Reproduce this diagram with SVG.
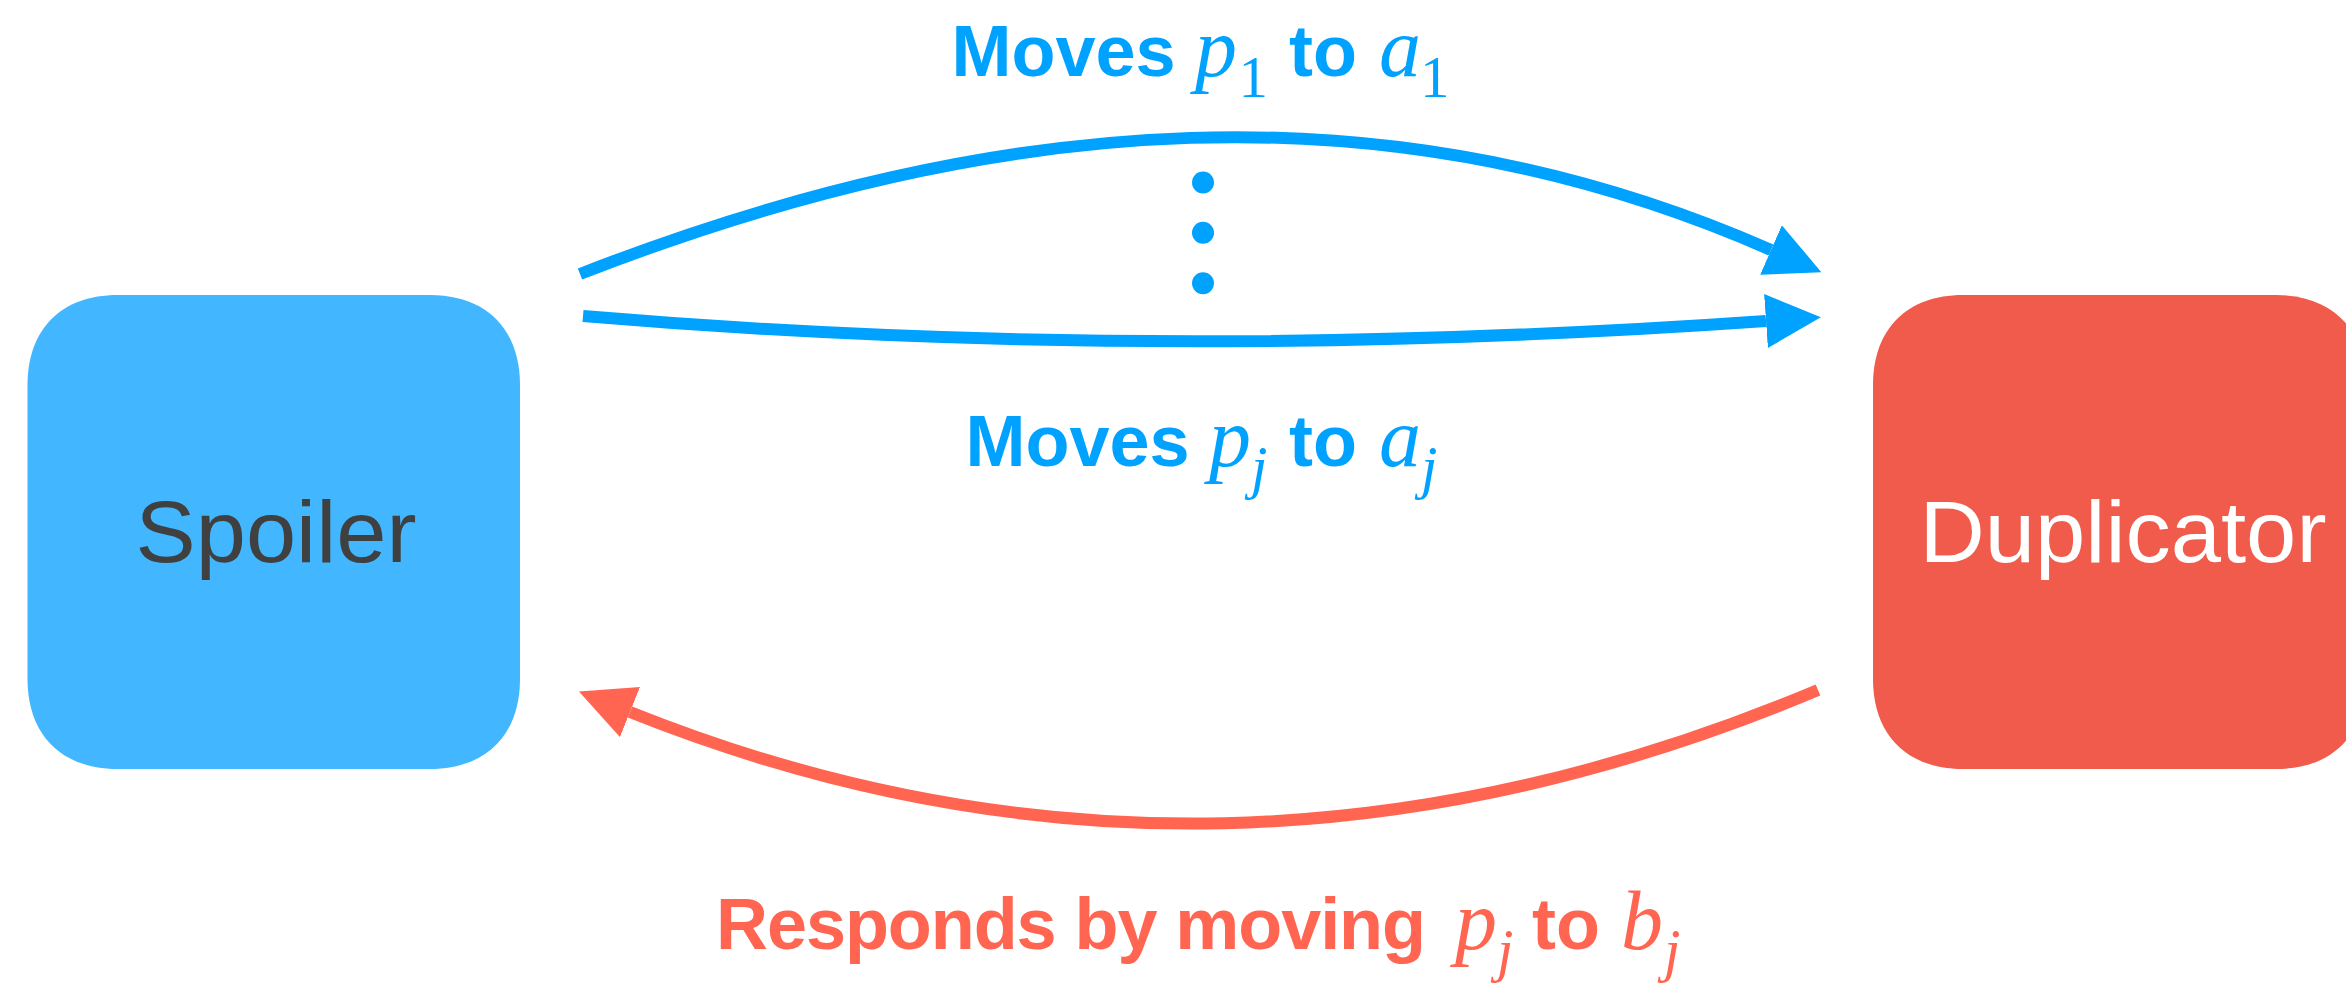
<svg xmlns="http://www.w3.org/2000/svg" width="2346" height="983" viewBox="0 0 2346 983">
  <style>
    .bold { font-family: "Liberation Sans", Arial, Helvetica, sans-serif; font-weight: bold; font-size: 72px; }
    .math { font-family: "Liberation Serif", "Times New Roman", serif; font-style: italic; font-size: 84px; }
    .sub { font-family: "Liberation Serif", "Times New Roman", serif; font-size: 59px; }
    .subi { font-family: "Liberation Serif", "Times New Roman", serif; font-style: italic; font-size: 59px; }
    .blue { fill: #00A2FF; }
    .red { fill: #FF6550; }
    .node-label { font-family: "Liberation Sans", Arial, Helvetica, sans-serif; font-size: 87px; text-anchor: middle; }
    .conn { fill: none; stroke-width: 12; stroke-linecap: butt; }
  </style>
  <defs>
    <marker id="headBlue" viewBox="0 0 55 54" refX="0" refY="27" markerWidth="55" markerHeight="54" markerUnits="userSpaceOnUse" orient="auto">
      <path d="M0,0 L55,27 L0,54 Z" fill="#00A2FF"/>
    </marker>
    <marker id="headRed" viewBox="0 0 55 54" refX="0" refY="27" markerWidth="55" markerHeight="54" markerUnits="userSpaceOnUse" orient="auto">
      <path d="M0,0 L55,27 L0,54 Z" fill="#FF6550"/>
    </marker>
  </defs>
  <rect width="2346" height="983" fill="#FFFFFF"/>

  <g id="spoiler">
    <path d="M117.5,295 H430 C486,295 520,329 520,385 V679 C520,735 486,769 430,769 H117.5 C61.5,769 27.5,735 27.5,679 V385 C27.5,329 61.5,295 117.5,295 Z" fill="#42B7FF"/>
    <text class="node-label" x="276" y="562" fill="#404040" textLength="281" lengthAdjust="spacingAndGlyphs">Spoiler</text>
  </g>

  <g id="duplicator">
    <path d="M1963,295 H2276 C2332,295 2366,329 2366,385 V679 C2366,735 2332,769 2276,769 H1963 C1907,769 1873,735 1873,679 V385 C1873,329 1907,295 1963,295 Z" fill="#F05B4B"/>
    <text class="node-label" x="2123" y="562" fill="#FFFFFF" textLength="407" lengthAdjust="spacingAndGlyphs">Duplicator</text>
  </g>

  <g id="connectors">
    <path class="conn" d="M580,274 C1000,110 1391,83 1771,250" stroke="#00A2FF" marker-end="url(#headBlue)"/>
    <path class="conn" d="M583,316 Q1150,364 1766,321" stroke="#00A2FF" marker-end="url(#headBlue)"/>
    <path class="conn" d="M1818,690 C1421,857 1027,871 630,712" stroke="#FF6550" marker-end="url(#headRed)"/>
    <g id="ellipsis" fill="#00A2FF">
      <circle cx="1203" cy="182.5" r="11"/>
      <circle cx="1203" cy="232.7" r="11"/>
      <circle cx="1203" cy="283.3" r="11"/>
    </g>
  </g>

  <g id="label-top">
    <text class="bold blue" x="951.5" y="76">Moves</text>
    <text class="math blue" x="1195" y="76">p</text>
    <text class="sub blue" x="1238.5" y="97">1</text>
    <text class="bold blue" x="1289" y="76">to</text>
    <text class="math blue" x="1379" y="76">a</text>
    <text class="sub blue" x="1420" y="97">1</text>
  </g>

  <g id="label-middle">
    <text class="bold blue" x="965.5" y="466">Moves</text>
    <text class="math blue" x="1209" y="466">p</text>
    <text class="subi blue" x="1251" y="487">j</text>
    <text class="bold blue" x="1289" y="466">to</text>
    <text class="math blue" x="1379" y="466">a</text>
    <text class="subi blue" x="1421" y="487">j</text>
  </g>

  <g id="label-bottom">
    <text class="bold red" x="716" y="949" textLength="710" lengthAdjust="spacing">Responds by moving</text>
    <text class="math red" x="1455" y="949">p</text>
    <text class="subi red" x="1497" y="970">j</text>
    <text class="bold red" x="1532" y="949">to</text>
    <text class="math red" x="1621" y="949">b</text>
    <text class="subi red" x="1664" y="970">j</text>
  </g>
</svg>
